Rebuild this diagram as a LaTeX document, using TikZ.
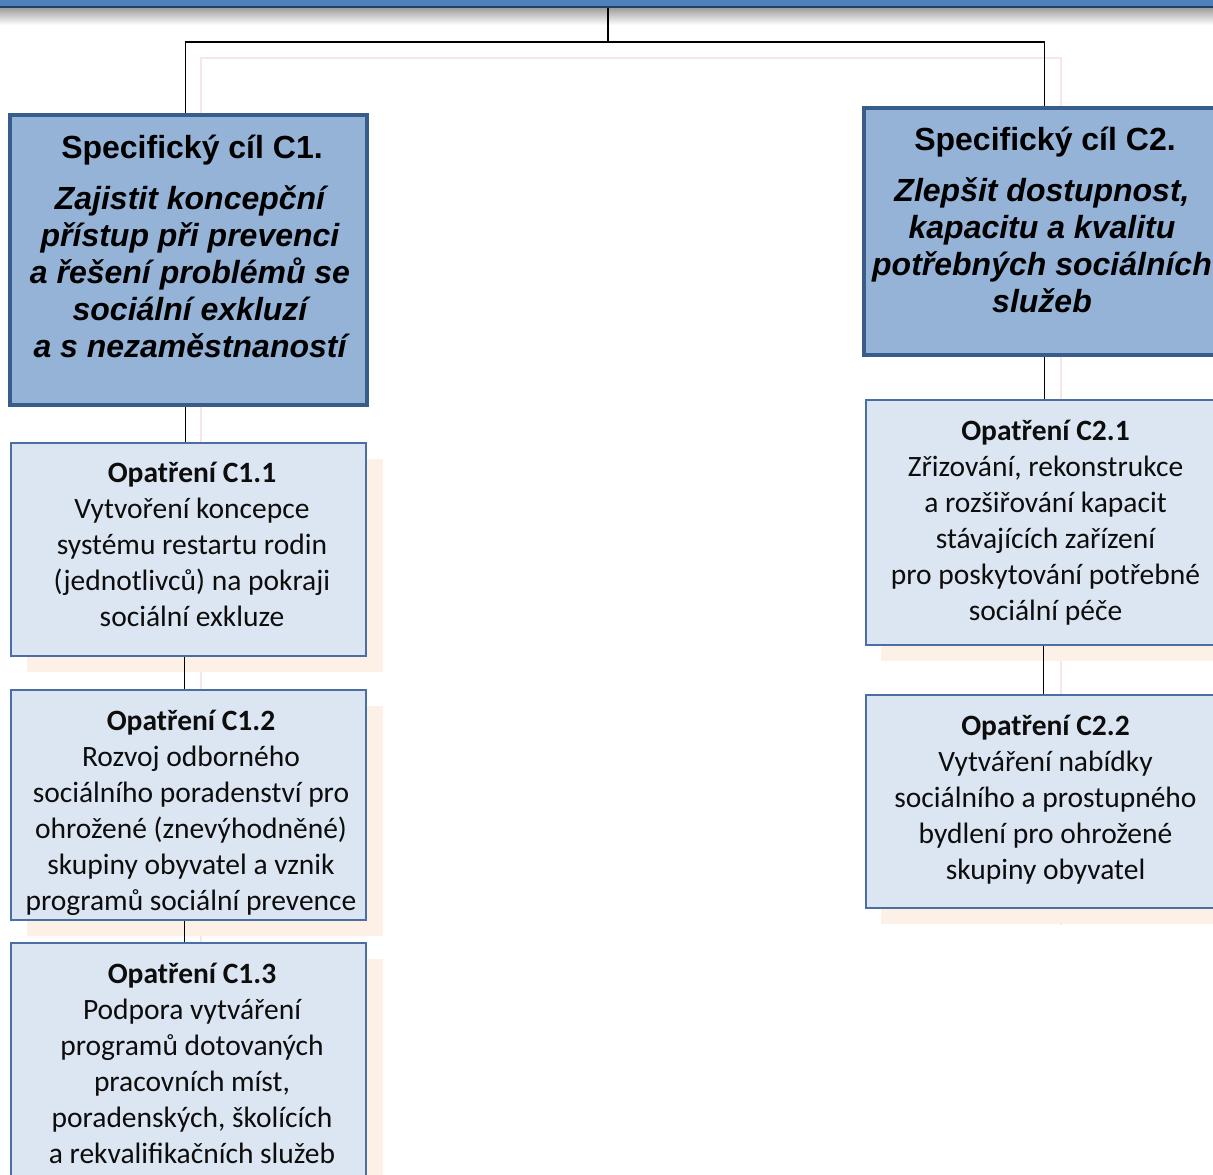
\documentclass[tikz,border=0pt]{standalone}
\usepackage{fontspec}
\setmainfont{Carlito}
\newfontfamily\arialf{Liberation Sans}
\definecolor{hdfill}{HTML}{95B3D7}
\definecolor{hdborder}{HTML}{385D8A}
\definecolor{opfill}{HTML}{DCE6F2}
\definecolor{opborder}{HTML}{4A70A3}
\definecolor{peach}{HTML}{FDF1E7}
\definecolor{ghostpink}{HTML}{F6E6E6}
\definecolor{barblue}{HTML}{4F81BD}
\definecolor{bardark}{HTML}{233F66}
\begin{document}
\begin{tikzpicture}[x=1pt,y=-1pt,
 hd/.style={draw=hdborder, line width=3.5pt, fill=hdfill, rectangle, inner sep=0, minimum width=357pt},
 op/.style={draw=opborder, line width=2pt, fill=opfill, rectangle, inner sep=0, minimum width=355pt},
 shad/.style={fill=peach, draw=none},
 con/.style={draw=black, line width=1.5pt},
 ghost/.style={draw=ghostpink, line width=1.5pt},
 hdtitle/.style={font=\arialf\bfseries\fontsize{32}{37}\selectfont, align=center, inner sep=0, anchor=base},
 hdbody/.style={font=\arialf\bfseries\itshape\fontsize{32}{37}\selectfont, align=center, inner sep=0, anchor=base},
 optxt/.style={font=\fontsize{29.5}{36}\selectfont, align=center, inner sep=0, anchor=base, text=black!95},
]
\useasboundingbox (0,0) rectangle (1213,1175);
\fill[white] (0,0) rectangle (1213,1175);

% top bar
\shade[top color=black!40, bottom color=white] (0,7) rectangle (1213,25);
\fill[barblue] (0,0) rectangle (1213,6);
\fill[bardark] (0,5.5) rectangle (1213,8);

% ghost connector shadows
\draw[ghost] (201,1175) -- (201,58) -- (1061,58) -- (1061,925);

% peach shadows
\fill[shad] (27,459) rectangle (383,672);
\fill[shad] (27,706) rectangle (383,936);
\fill[shad] (27,959) rectangle (383,1175);
\fill[shad] (881,416) rectangle (1213,661);
\fill[shad] (881,711) rectangle (1213,924);

% coordinates of connectors
\coordinate (bar) at (608,8);
\coordinate (hub) at (608,42);
\coordinate (hl) at (185.5,42);
\coordinate (hr) at (1044.5,42);

% boxes
\node[hd, minimum height=290pt] (c1) at (188.5,260) {};
\node[hd, minimum height=247pt] (c2) at (1042.5,231.5) {};
\node[op, minimum height=213pt] (c11) at (188.5,549.5) {};
\node[op, minimum height=230pt] (c12) at (188.5,805) {};
\node[op, minimum height=252pt] (c13) at (188.5,1069) {};
\node[op, minimum height=245pt] (c21) at (1043,522.5) {};
\node[op, minimum height=213pt] (c22) at (1043,801.5) {};

% connectors
\draw[con] (bar) -- (hub);
\draw[con] (hl |- c1.north) -- (hl) -- (hr) -- (hr |- c2.north);
\draw[con] (c1.south -| hl) -- (c11.north -| hl);
\draw[con] (c11.south -| 184.5,0) -- (c12.north -| 184.5,0);
\draw[con] (c12.south -| 184.5,0) -- (c13.north -| 184.5,0);
\draw[con] (c2.south -| hr) -- (c21.north -| hr);
\draw[con] (c21.south -| 1043.5,0) -- (c22.north -| 1043.5,0);

% heading texts (base anchor = baseline of the last line)
\node[hdtitle] (c1t) at (192,158) {Specifický cíl C1.};
\node[hdbody] (c1b) at (190,357) {Zajistit koncepční\\přístup při prevenci\\a řešení problémů se\\sociální exkluzí\\a s nezaměstnaností};
\node[hdtitle] (c2t) at (1045,150) {Specifický cíl C2.};
\node[hdbody] (c2b) at (1042,312) {Zlepšit dostupnost,\\kapacitu a kvalitu\\potřebných sociálních\\služeb};

% measure texts
\node[optxt] (c11t) at (192,626) {\textbf{Opatření C1.1}\\Vytvoření koncepce\\systému restartu rodin\\(jednotlivců) na pokraji\\sociální exkluze};
\node[optxt] (c12t) at (191,910) {\textbf{Opatření C1.2}\\Rozvoj odborného\\sociálního poradenství pro\\ohrožené (znevýhodněné)\\skupiny obyvatel a vznik\\programů sociální prevence};
\node[optxt] (c13t) at (192,1163) {\textbf{Opatření C1.3}\\Podpora vytváření\\programů dotovaných\\pracovních míst,\\poradenských, školících\\a rekvalifikačních služeb};
\node[optxt] (c21t) at (1045.5,620) {\textbf{Opatření C2.1}\\Zřizování, rekonstrukce\\a rozšiřování kapacit\\stávajících zařízení\\pro poskytování potřebné\\sociální péče};
\node[optxt] (c22t) at (1045.5,879) {\textbf{Opatření C2.2}\\Vytváření nabídky\\sociálního a prostupného\\bydlení pro ohrožené\\skupiny obyvatel};
\end{tikzpicture}
\end{document}
